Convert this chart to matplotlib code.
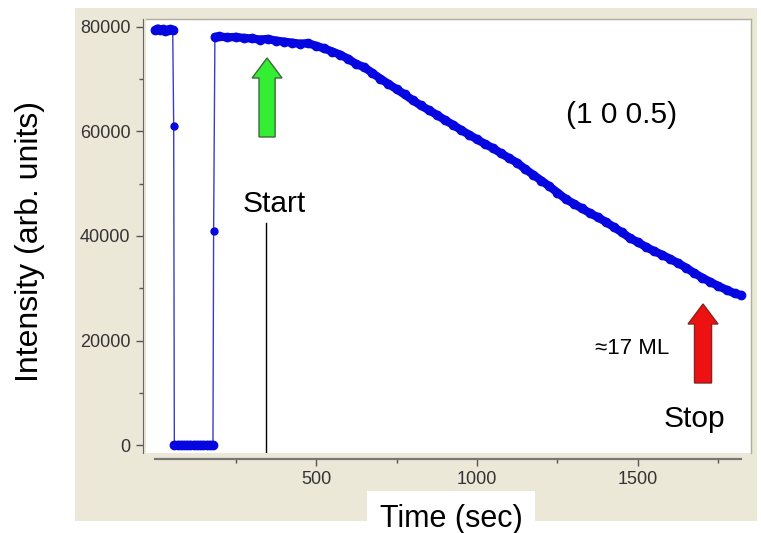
import matplotlib
matplotlib.use('Agg')
import matplotlib.pyplot as plt
from matplotlib.patches import FancyArrow, Rectangle

plt.rcParams['font.family'] = ['Liberation Sans', 'DejaVu Sans']

# intensity before the shutter closes
t_before = [0, 8, 16, 24, 32, 40, 48, 55]
i_before = [79400, 79700, 79500, 79600, 79300, 79500, 79600, 79400]
# single points caught during the transitions
t_trans = [58, 182]
i_trans = [61000, 41000]
# beam blocked
t_off = [60, 70, 80, 90, 100, 110, 120, 130, 140, 150, 160, 170, 180]
i_off = [0, 0, 0, 0, 0, 0, 0, 0, 0, 0, 0, 0, 0]
# growth run
t_run = [186, 200, 225, 250, 275, 300, 325, 350, 375, 400, 425, 450, 475,
         500, 525, 550, 575, 600, 625, 650, 675, 700, 725, 750, 775, 800,
         825, 850, 875, 900, 925, 950, 975, 1000, 1025, 1050, 1075, 1100,
         1125, 1150, 1175, 1200, 1225, 1250, 1275, 1300, 1325, 1350, 1375,
         1400, 1425, 1450, 1475, 1500, 1525, 1550, 1575, 1600, 1625, 1650,
         1675, 1700, 1725, 1750, 1775, 1800, 1820]
i_run = [78100, 78200, 78000, 78100, 77900, 77800, 77600, 77700, 77400,
         77200, 77000, 76800, 76900, 76400, 75900, 75300, 74700, 73900,
         72900, 72300, 71200, 70100, 69100, 68100, 67100, 66000, 65000,
         64100, 63200, 62200, 61300, 60300, 59400, 58500, 57600, 56800,
         55800, 54900, 54000, 52800, 51700, 50600, 49500, 48300, 47100,
         46200, 45300, 44400, 43600, 42700, 41700, 40700, 39600, 38800,
         37900, 37100, 36400, 35600, 34800, 33900, 32900, 32000, 31200,
         30400, 29700, 29000, 28700]

y_ticks = [0, 20000, 40000, 60000, 80000]
x_ticks = [500, 1000, 1500]

fig = plt.figure(figsize=(7.61, 5.33), dpi=100, facecolor='white')
W, H = 761, 533
fig.patches.append(Rectangle((75 / W, 1 - 521 / H), 682 / W, 513 / H,
                             transform=fig.transFigure, facecolor='#ebe8d8',
                             edgecolor='none', zorder=-5))

ax = fig.add_axes([146 / W, 1 - 453 / H, 605 / W, 434 / H])
ax.set_facecolor('white')

t_all = t_before + [t_trans[0]] + t_off + [t_trans[1]] + t_run
i_all = i_before + [i_trans[0]] + i_off + [i_trans[1]] + i_run
blue = '#0606e0'
ax.plot(t_all, i_all, color='#3b3bc8', lw=1)
for tt, ii in [(t_before, i_before), (t_off, i_off), (t_run, i_run)]:
    ax.plot(tt, ii, color=blue, lw=6, marker='o', ms=6,
            solid_capstyle='round', solid_joinstyle='round')
ax.plot(t_trans, i_trans, 'o', color=blue, ms=5)

ax.set_xlim(-28, 1851)
ax.set_ylim(-1530, 81530)

# start marker
ax.plot([345, 345], [42500, -1530], color='black', lw=1)
ax.text(370, 44600, 'Start', fontsize=21.5, ha='center', va='baseline')
ax.text(1448, 61600, '(1 0 0.5)', fontsize=21.5, ha='center', va='baseline')
ax.text(1482, 17400, '\u224817 ML', fontsize=16, ha='center', va='baseline')
ax.text(1674, 3440, 'Stop', fontsize=21.5, ha='center', va='baseline')

ax.add_patch(FancyArrow(348, 58950, 0, 15120, width=50, head_width=93,
                        head_length=3830, length_includes_head=True,
                        facecolor='#33ee33', edgecolor='#3a6a3a', lw=1))
ax.add_patch(FancyArrow(1702, 11870, 0, 15120, width=53, head_width=93,
                        head_length=3830, length_includes_head=True,
                        facecolor='#ee1111', edgecolor='#8a2222', lw=1))

# axes in the Igor style
for s in ['top', 'right']:
    ax.spines[s].set_color('#b0ada0')
    ax.spines[s].set_linewidth(1)
ax.spines['left'].set_position(('outward', 2.2))
ax.spines['left'].set_color('#666666')
ax.spines['bottom'].set_position(('outward', 4.3))
ax.spines['bottom'].set_color('#777777')
ax.spines['bottom'].set_linewidth(1.6)
ax.spines['bottom'].set_bounds(0, 1820)

ax.set_yticks(y_ticks)
ax.set_yticklabels([str(v) for v in y_ticks])
ax.set_yticks(range(10000, 80000, 20000), minor=True)
ax.set_xticks(x_ticks)
ax.set_xticklabels([str(v) for v in x_ticks])
ax.set_xticks([250, 750, 1250, 1750], minor=True)
ax.tick_params(axis='both', which='major', labelsize=13, colors='#555555',
               labelcolor='#333333', length=5, width=1, pad=4)
ax.tick_params(axis='both', which='minor', colors='#555555', length=3, width=1)

fig.text(30 / W, 1 - 241 / H, 'Intensity (arb. units)', rotation=90,
         fontsize=23, ha='center', va='center')
fig.text(451 / W, 1 - 527 / H, 'Time (sec)', fontsize=22, ha='center',
         va='baseline',
         bbox=dict(facecolor='white', edgecolor='none', pad=9))

fig.savefig('out.png', dpi=100, facecolor='white')
